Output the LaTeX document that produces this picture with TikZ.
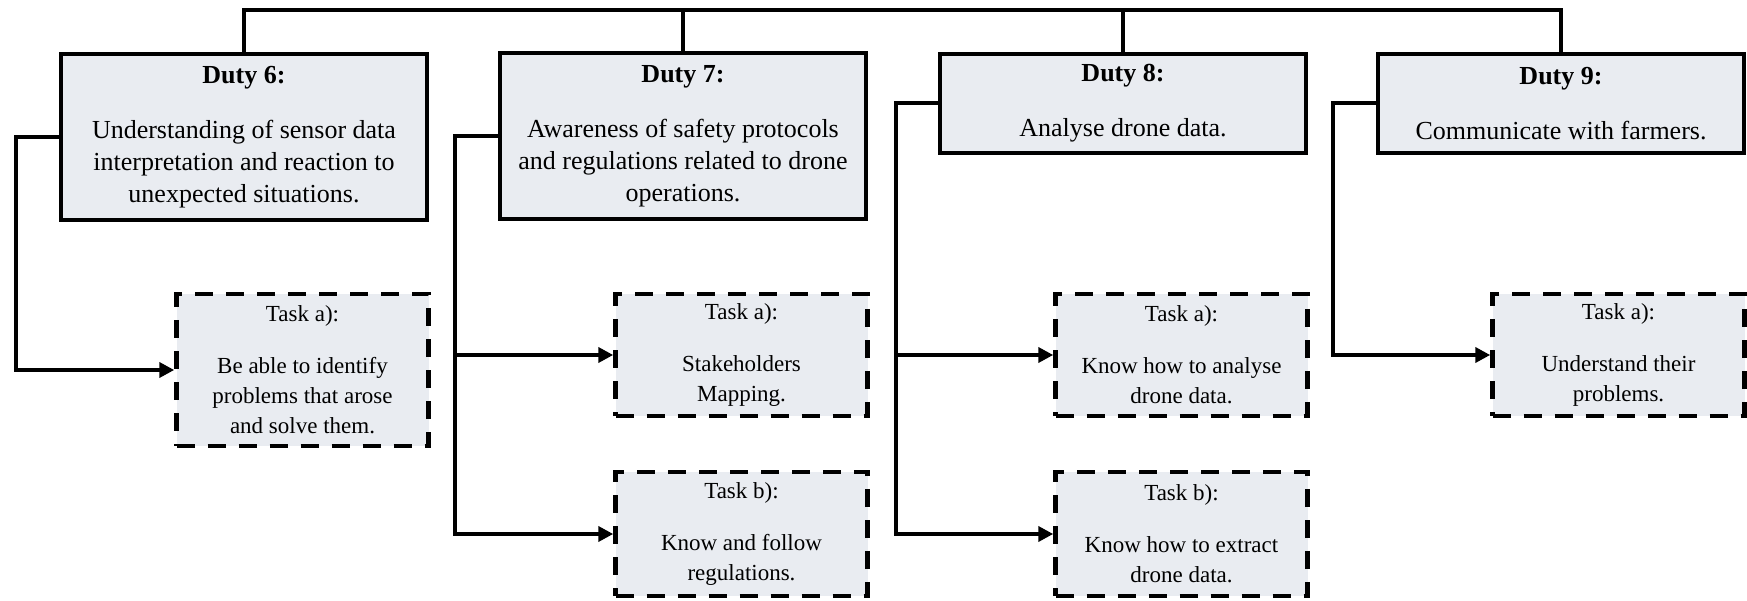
\documentclass[tikz,border=0pt]{standalone}
\usepackage{fontspec}
\setmainfont{Liberation Serif}
\usetikzlibrary{arrows.meta}
\definecolor{boxfill}{RGB}{233,236,241}
\begin{document}
\begin{tikzpicture}[x=1pt,y=-1pt,
  dutybox/.style={draw=black, line width=4pt, fill=boxfill, minimum width=366pt,
    minimum height=#1, align=center, inner sep=0pt,
    font=\fontsize{26}{32}\selectfont},
  taskbox/.style={draw=black, line width=4.5pt, dash pattern=on 18pt off 13pt,
    fill=boxfill, minimum width=252pt, minimum height=#1, align=center, inner sep=0pt,
    font=\fontsize{23}{30}\selectfont},
  link/.style={draw=black, line width=4pt},
  arr/.style={link, -{Triangle[length=15pt,width=15pt]}}
]
\useasboundingbox (0,0) rectangle (1747,601);
\fill[white] (0,0) rectangle (1747,601);

% duty boxes
\node[dutybox=166pt] (d6) at (244,137)
  {\textbf{Duty 6:}\\[23pt]Understanding of sensor data\\interpretation and reaction to\\unexpected situations.};
\node[dutybox=166pt] (d7) at (683,136)
  {\textbf{Duty 7:}\\[23pt]Awareness of safety protocols\\and regulations related to drone\\operations.};
\node[dutybox=99pt] (d8) at (1123,103.5)
  {\textbf{Duty 8:}\\[23pt]Analyse drone data.};
\node[dutybox=99pt] (d9) at (1561,103.5)
  {\textbf{Duty 9:}\\[23pt]Communicate with farmers.};

% task boxes
\node[taskbox=152pt] (t6a) at (302.5,370)
  {Task a):\\[22pt]Be able to identify\\problems that arose\\and solve them.};
\node[taskbox=122pt] (t7a) at (741.5,355)
  {Task a):\\[22pt]Stakeholders\\Mapping.};
\node[taskbox=124pt] (t7b) at (741.5,534)
  {Task b):\\[22pt]Know and follow\\regulations.};
\node[taskbox=122pt] (t8a) at (1181.5,355)
  {Task a):\\[22pt]Know how to analyse\\drone data.};
\node[taskbox=124pt] (t8b) at (1181.5,534)
  {Task b):\\[22pt]Know how to extract\\drone data.};
\node[taskbox=122pt] (t9a) at (1618.5,355)
  {Task a):\\[22pt]Understand their\\problems.};

% top bus
\coordinate (bus) at (0,10);
\draw[link] (d6.north) |- (bus -| d9.north) -- (d9.north);
\draw[link] (d7.north) -- (d7.north |- bus);
\draw[link] (d8.north) -- (d8.north |- bus);

% duty to task connectors
\draw[arr] (d6.west) -- ++(-43,0) |- (t6a.west);
\draw[arr] (d7.west) -- ++(-43,0) coordinate (c7) |- (t7b.west);
\draw[arr] (c7 |- t7a.west) -- (t7a.west);
\draw[arr] (d8.west) -- ++(-42,0) coordinate (c8) |- (t8b.west);
\draw[arr] (c8 |- t8a.west) -- (t8a.west);
\draw[arr] (d9.west) -- ++(-43,0) |- (t9a.west);
\end{tikzpicture}
\end{document}
